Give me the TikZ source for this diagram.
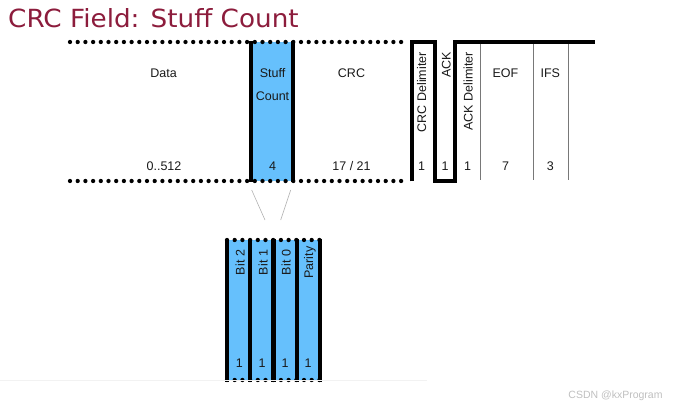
\documentclass[tikz,border=0pt]{standalone}
\usepackage{fontspec}
\setmainfont{Liberation Sans}
\newfontfamily\titlefont{DejaVu Sans}
\definecolor{titlered}{RGB}{140,28,60}
\definecolor{fieldblue}{RGB}{102,192,252}
\definecolor{thingray}{RGB}{120,120,120}
\begin{document}
\begin{tikzpicture}[x=1pt,y=-1pt,
  lab/.style={font=\fontsize{12.5}{14}\selectfont, inner sep=0pt, text height=9pt, text depth=0pt, text=black!90},
  vlab/.style={lab, rotate=90, anchor=east},
  vclab/.style={lab, rotate=90},
  dotline/.style={line width=4.3pt, line cap=round, dash pattern=on 0pt off 7.7pt},
  thickline/.style={line width=4.3pt, line join=miter},
  thinline/.style={line width=0.9pt, thingray},
  zoomline/.style={line width=0.6pt, gray!60}]
\useasboundingbox (0,0) rectangle (675,409);
% title
\node[anchor=base west, inner sep=0pt, text=titlered, font=\titlefont\fontsize{25}{30}\selectfont, xscale=1.05] (title) at (8,27.7) {CRC Field: Stuff Count};
% fills
\fill[fieldblue] (251,42) rectangle (293,181);
\fill[fieldblue] (227,240) rectangle (320.2,380);
% dotted frame lines
\draw[dotline] (70,42) -- (408,42);
\draw[dotline] (70,181) -- (408,181);
% stuff count borders
\draw[thickline] (251,41) -- (251,182);
\draw[thickline] (293,41) -- (293,182);
% ACK shape
\draw[thickline] (412,181.5) -- (412,42) -- (435,42) -- (435,181) -- (455,181) -- (455,42) -- (595,42);
% thin separators
\draw[thinline] (480,44) -- (480,180);
\draw[thinline] (533.3,44) -- (533.3,180);
\draw[thinline] (568.3,44) -- (568.3,180);
% upper labels
\node[lab] (data) at (163.5,73.3) {Data};
\node[lab] (stuff) at (272.5,73.3) {Stuff};
\node[lab] (count) at (272.5,95.7) {Count};
\node[lab] (crc) at (351.5,73.3) {CRC};
\node[lab] (eof) at (505.5,73.3) {EOF};
\node[lab] (ifs) at (550.3,73.3) {IFS};
\node[vlab] (crcdel) at (421.7,52) {CRC Delimiter};
\node[vlab] (ack) at (446,52) {ACK};
\node[vlab] (ackdel) at (468,52) {ACK Delimiter};
\node[lab] (ndata) at (164,165.7) {0..512};
\node[lab] (nstuff) at (272.5,165.7) {4};
\node[lab] (ncrc) at (351.5,165.7) {17 / 21};
\node[lab] (ncrcdel) at (421.7,165.7) {1};
\node[lab] (nack) at (445,165.7) {1};
\node[lab] (nackdel) at (467.7,165.7) {1};
\node[lab] (neof) at (505.5,165.7) {7};
\node[lab] (nifs) at (550.3,165.7) {3};
% zoom lines
\coordinate (z1a) at (251.7,190);
\coordinate (z1b) at (265,220);
\coordinate (z2a) at (290.7,190);
\coordinate (z2b) at (280.7,220);
\draw[zoomline] (z1a) -- (z1b);
\draw[zoomline] (z2a) -- (z2b);
% lower box
\draw[dotline] (227,240) -- (320,240);
\draw[dotline] (227,380) -- (320,380);
\foreach \xx in {227,250.3,273.6,296.9,320.2} {
  \draw[thickline] (\xx,238.5) -- (\xx,381.5);
}
\node[vclab] (b2) at (240,262.5) {Bit 2};
\node[vclab] (b1) at (263,262.5) {Bit 1};
\node[vclab] (b0) at (286,262.5) {Bit 0};
\node[vclab] (par) at (308.5,262.5) {Parity};
\node[lab] (n1) at (239.3,363) {1};
\node[lab] (n2) at (262,363) {1};
\node[lab] (n3) at (285,363) {1};
\node[lab] (n4) at (308,363) {1};
% faint bottom edge
\draw[gray!10, line width=0.8pt] (0,380) -- (427,380);
% watermark
\node[inner sep=0pt, text=gray!50, font=\fontsize{10.5}{12}\selectfont] (wm) at (615.5,396) {CSDN @kxProgram};
\end{tikzpicture}
\end{document}
